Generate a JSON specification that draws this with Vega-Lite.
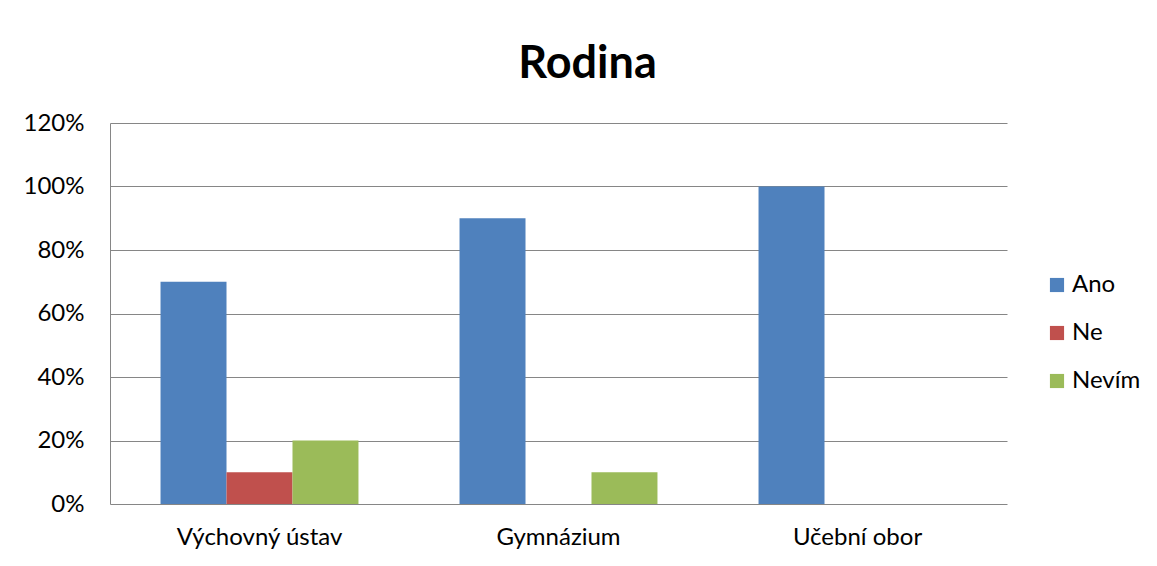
{
  "$schema": "https://vega.github.io/schema/vega-lite/v6.json",
  "autosize": "none",
  "width": 897,
  "height": 381,
  "padding": {"left": 110, "top": 123, "right": 150, "bottom": 62},
  "background": "white",
  "data": {
    "values": [
      {"kategorie": "Výchovný ústav", "odpoved": "Ano", "podil": 0.7},
      {"kategorie": "Výchovný ústav", "odpoved": "Ne", "podil": 0.1},
      {"kategorie": "Výchovný ústav", "odpoved": "Nevím", "podil": 0.2},
      {"kategorie": "Gymnázium", "odpoved": "Ano", "podil": 0.9},
      {"kategorie": "Gymnázium", "odpoved": "Ne", "podil": 0.0},
      {"kategorie": "Gymnázium", "odpoved": "Nevím", "podil": 0.1},
      {"kategorie": "Učební obor", "odpoved": "Ano", "podil": 1.0},
      {"kategorie": "Učební obor", "odpoved": "Ne", "podil": 0.0},
      {"kategorie": "Učební obor", "odpoved": "Nevím", "podil": 0.0}
    ]
  },
  "title": {
    "text": "Rodina",
    "font": "Lato",
    "fontSize": 45,
    "fontWeight": "bold",
    "color": "black",
    "anchor": "middle",
    "frame": "group",
    "dx": 29,
    "offset": 24
  },
  "mark": {"type": "bar"},
  "encoding": {
    "x": {
      "field": "kategorie",
      "type": "nominal",
      "sort": ["Výchovný ústav", "Gymnázium", "Učební obor"],
      "scale": {"paddingInner": 0.338, "paddingOuter": 0.169},
      "axis": {
        "title": null,
        "labelAngle": 0,
        "ticks": false,
        "domain": false,
        "labelFont": "Lato",
        "labelFontSize": 24,
        "labelColor": "black",
        "labelPadding": 21
      }
    },
    "xOffset": {
      "field": "odpoved",
      "type": "nominal",
      "sort": ["Ano", "Ne", "Nevím"],
      "scale": {"paddingInner": 0, "paddingOuter": 0}
    },
    "y": {
      "field": "podil",
      "type": "quantitative",
      "scale": {"domain": [0, 1.2], "nice": false},
      "axis": {
        "title": null,
        "values": [0, 0.2, 0.4, 0.6, 0.8, 1.0, 1.2],
        "format": ".0%",
        "ticks": false,
        "domain": true,
        "domainColor": "#868686",
        "grid": true,
        "gridColor": "#868686",
        "gridOpacity": 1,
        "labelFont": "Lato",
        "labelFontSize": 24,
        "labelColor": "black",
        "labelPadding": 26
      }
    },
    "color": {
      "field": "odpoved",
      "type": "nominal",
      "sort": ["Ano", "Ne", "Nevím"],
      "scale": {"domain": ["Ano", "Ne", "Nevím"], "range": ["#4F81BD", "#C0504D", "#9BBB59"]},
      "legend": {
        "title": null,
        "orient": "none",
        "legendX": 935,
        "legendY": 150,
        "padding": 0,
        "symbolType": "square",
        "symbolSize": 200,
        "symbolStrokeWidth": 0,
        "symbolOpacity": 1,
        "labelFont": "Lato",
        "labelFontSize": 24,
        "labelColor": "black",
        "labelOffset": 3,
        "rowPadding": 24
      }
    }
  },
  "config": {
    "view": {"stroke": null}
  }
}
